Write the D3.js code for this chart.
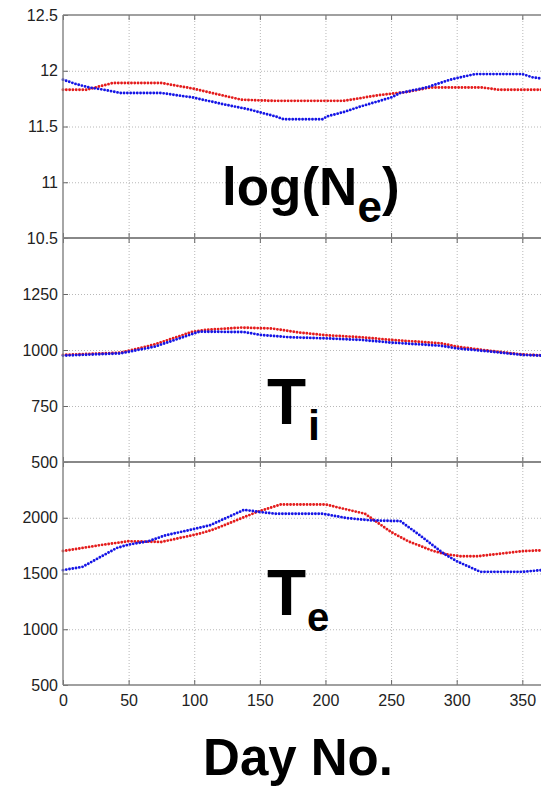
<!DOCTYPE html>
<html>
<head>
<meta charset="utf-8">
<script src="https://cdn.jsdelivr.net/npm/d3@7"></script>
<style>
  html, body { margin: 0; padding: 0; background: #fff; }
  svg { display: block; }
  .tick text { font-family: "Liberation Sans", Arial, Helvetica, sans-serif; font-size: 16px; fill: #222; }
  .big { font-family: "Liberation Sans", Arial, Helvetica, sans-serif; font-weight: bold; fill: #000; }
</style>
</head>
<body>
<svg id="chart" width="541" height="786"></svg>
<script>
// ---- data (day number, value) ----
const xTicks = [0, 50, 100, 150, 200, 250, 300, 350];
const neTicks = [10.5, 11, 11.5, 12, 12.5];
const tiTicks = [500, 750, 1000, 1250, 1500];
const teTicks = [500, 1000, 1500, 2000, 2500];

const neBlue = [[0,11.92],[10,11.88],[20,11.85],[31,11.83],[44,11.80],[75,11.80],[99,11.76],[122,11.70],[141,11.655],[162,11.59],[168,11.565],[198,11.565],[201,11.59],[214,11.63],[227,11.68],[250,11.76],[257,11.80],[277,11.85],[295,11.92],[314,11.97],[350,11.97],[358,11.94],[365,11.93]];
const neRed = [[0,11.83],[18,11.83],[38,11.89],[75,11.89],[99,11.84],[136,11.74],[160,11.73],[214,11.73],[240,11.78],[262,11.81],[280,11.85],[319,11.85],[332,11.83],[365,11.83]];

const tiBlue = [[0,975],[44,985],[70,1015],[104,1082],[138,1080],[151,1067],[172,1057],[200,1052],[227,1045],[250,1033],[288,1019],[300,1007],[324,994],[350,978],[365,975]];
const tiRed = [[0,978],[44,988],[70,1025],[99,1082],[109,1090],[136,1100],[159,1096],[180,1078],[200,1066],[227,1057],[250,1045],[288,1030],[300,1015],[324,997],[350,980],[365,976]];

const teBlue = [[0,1530],[15,1560],[41,1729],[50,1759],[65,1789],[78,1842],[101,1902],[112,1932],[138,2071],[150,2051],[162,2036],[198,2036],[216,1997],[235,1976],[257,1970],[272,1842],[290,1679],[300,1610],[318,1515],[350,1515],[365,1530]];
const teRed = [[0,1702],[31,1759],[50,1789],[75,1783],[104,1857],[115,1896],[149,2057],[166,2119],[200,2119],[214,2080],[230,2036],[250,1872],[263,1789],[282,1702],[293,1670],[303,1655],[316,1655],[350,1700],[365,1708]];

const RED = "#e41c1c", BLUE = "#1515e6";

const svg = d3.select("#chart");
const x = d3.scaleLinear().domain([0, 365]).range([63, 542]);

const panels = [
  { top: 15,  bottom: 238, domain: [10.5, 12.5], ticks: neTicks, labels: neTicks, red: neRed, blue: neBlue },
  { top: 238, bottom: 462, domain: [500, 1500], ticks: tiTicks, labels: tiTicks.slice(0, 4), red: tiRed, blue: tiBlue },
  { top: 462, bottom: 685, domain: [500, 2500], ticks: teTicks, labels: teTicks.slice(0, 4), red: teRed, blue: teBlue }
];

panels.forEach((p, i) => {
  const y = d3.scaleLinear().domain(p.domain).range([p.bottom, p.top]);
  const g = svg.append("g");

  // grid
  g.append("g").attr("transform", `translate(0,${p.bottom})`)
    .call(d3.axisBottom(x).tickValues(xTicks.slice(1)).tickSize(-(p.bottom - p.top)).tickFormat(""))
    .call(a => a.select(".domain").remove())
    .call(a => a.selectAll("line").attr("stroke", "#b8b8b8").attr("stroke-dasharray", "1,2"));
  g.append("g").attr("transform", `translate(63,0)`)
    .call(d3.axisLeft(y).tickValues(p.ticks.slice(1, -1)).tickSize(-(542 - 63)).tickFormat(""))
    .call(a => a.select(".domain").remove())
    .call(a => a.selectAll("line").attr("stroke", "#b8b8b8").attr("stroke-dasharray", "1,2"));

  // series
  const line = d3.line().x(d => x(d[0])).y(d => y(d[1]));
  [[p.red, RED], [p.blue, BLUE]].forEach(([data, col]) => {
    g.append("path").datum(data).attr("d", line)
      .attr("fill", "none").attr("stroke", col).attr("stroke-width", 2.9)
      .attr("stroke-linecap", "round").attr("stroke-dasharray", "0,3.3");
  });

  // tick marks (inward) top and bottom
  g.append("g").attr("transform", `translate(0,${p.bottom})`)
    .call(d3.axisBottom(x).tickValues(xTicks).tickSize(-5).tickFormat(i === 2 ? d3.format("d") : "").tickPadding(10))
    .call(a => a.select(".domain").remove())
    .call(a => a.selectAll("line").attr("stroke", "#666"));
  g.append("g").attr("transform", `translate(0,${p.top})`)
    .call(d3.axisTop(x).tickValues(xTicks).tickSize(-5).tickFormat(""))
    .call(a => a.select(".domain").remove())
    .call(a => a.selectAll("line").attr("stroke", "#666"));

  // left axis with labels
  g.append("g").attr("transform", `translate(63,0)`)
    .call(d3.axisLeft(y).tickValues(p.labels).tickSize(-5).tickPadding(5).tickFormat(d => String(d)))
    .call(a => a.select(".domain").remove())
    .call(a => a.selectAll("line").attr("stroke", "#666"));

  // frame lines
  g.append("line").attr("x1", 63).attr("x2", 542).attr("y1", p.top).attr("y2", p.top)
    .attr("stroke", "#808080").attr("stroke-width", 1.4);
  g.append("line").attr("x1", 63).attr("x2", 542).attr("y1", p.bottom).attr("y2", p.bottom)
    .attr("stroke", "#808080").attr("stroke-width", 1.4);
});

svg.append("line").attr("x1", 63).attr("x2", 63).attr("y1", 15).attr("y2", 685)
  .attr("stroke", "#808080").attr("stroke-width", 1.4);

// big labels
const t1 = svg.append("text").attr("class", "big").attr("x", 222).attr("y", 205).attr("font-size", 53);
t1.append("tspan").text("log(N");
t1.append("tspan").attr("font-size", 44).attr("dy", 17).text("e");
t1.append("tspan").attr("dy", -17).text(")");

const t2 = svg.append("text").attr("class", "big").attr("x", 267).attr("y", 424).attr("font-size", 64);
t2.append("tspan").text("T");
t2.append("tspan").attr("font-size", 43).attr("dx", 2).attr("dy", 16).text("i");

const t3 = svg.append("text").attr("class", "big").attr("x", 267).attr("y", 615).attr("font-size", 64);
t3.append("tspan").text("T");
t3.append("tspan").attr("font-size", 40).attr("dx", 1).attr("dy", 16).text("e");

svg.append("text").attr("class", "big").attr("x", 298).attr("y", 775).attr("font-size", 51)
  .attr("text-anchor", "middle").text("Day No.");
</script>
</body>
</html>
